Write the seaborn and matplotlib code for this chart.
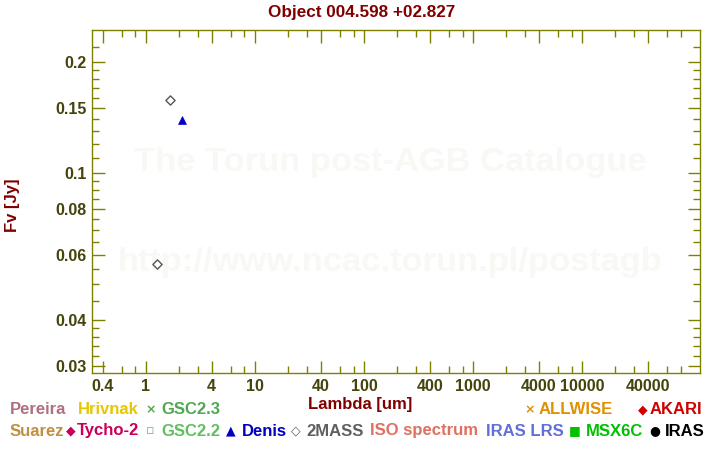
import matplotlib
matplotlib.use("Agg")
import matplotlib.pyplot as plt
import matplotlib.ticker as mticker
import seaborn as sns
import pandas as pd

# ---- data ----
mass_wl = [1.25, 1.65]
mass_flux = [0.0567, 0.158]
denis_wl = [2.15]
denis_flux = [0.139]

x_major = [0.4, 1, 4, 10, 40, 100, 400, 1000, 4000, 10000, 40000]
x_major_labels = ["0.4", "1", "4", "10", "40", "100", "400", "1000", "4000", "10000", "40000"]
y_major = [0.03, 0.04, 0.06, 0.08, 0.1, 0.15, 0.2]
y_major_labels = ["0.03", "0.04", "0.06", "0.08", "0.1", "0.15", "0.2"]
y_minor = [0.032, 0.034, 0.036, 0.038, 0.045, 0.05, 0.055, 0.065, 0.07, 0.075,
           0.085, 0.09, 0.095, 0.11, 0.12, 0.13, 0.14, 0.16, 0.17, 0.18, 0.19, 0.22]
x_minor = [0.6, 0.8, 2, 3, 6, 8, 20, 30, 60, 80, 200, 300, 600, 800, 2000, 3000,
           6000, 8000, 20000, 30000, 60000, 80000]

sns.set_style("white")
plt.rcParams['font.family'] = ['Liberation Sans', 'DejaVu Sans']
plt.rcParams['font.weight'] = 'bold'

fig = plt.figure(figsize=(7.2, 4.5), dpi=100)
ax = fig.add_axes([92/720, 1-373/450, 608/720, 343/450])

df_mass = pd.DataFrame({"wl": mass_wl, "flux": mass_flux})
df_denis = pd.DataFrame({"wl": denis_wl, "flux": denis_flux})
sns.scatterplot(data=df_mass, x="wl", y="flux", marker="D", s=22,
                facecolor="white", edgecolor="#555555", linewidth=1.0, ax=ax, zorder=5)
sns.scatterplot(data=df_denis, x="wl", y="flux", marker="^", s=32,
                color="#0000c8", edgecolor="#0000c8", linewidth=0.5, ax=ax, zorder=5)

ax.set_xscale("log")
ax.set_yscale("log")
ax.set_xlim(0.32, 120000)
ax.set_ylim(0.0287, 0.244)

olive = "#808000"
for s in ax.spines.values():
    s.set_color(olive)
    s.set_linewidth(1.0)

ax.xaxis.set_major_locator(mticker.FixedLocator(x_major))
ax.xaxis.set_major_formatter(mticker.FixedFormatter(x_major_labels))
ax.xaxis.set_minor_locator(mticker.FixedLocator(x_minor))
ax.xaxis.set_minor_formatter(mticker.NullFormatter())
ax.yaxis.set_major_locator(mticker.FixedLocator(y_major))
ax.yaxis.set_major_formatter(mticker.FixedFormatter(y_major_labels))
ax.yaxis.set_minor_locator(mticker.FixedLocator(y_minor))
ax.yaxis.set_minor_formatter(mticker.NullFormatter())

ax.tick_params(which="major", direction="in", length=9, width=1, color=olive,
               left=True, bottom=True, top=True, right=True,
               labelsize=11.5, labelcolor="#44440c", pad=4)
ax.tick_params(which="minor", direction="in", length=5, width=1, color=olive,
               left=True, bottom=True, top=True, right=True)
for lab in ax.get_xticklabels() + ax.get_yticklabels():
    lab.set_fontweight("bold")

ax.set_xlabel("")
ax.set_ylabel("")

dred = "#800000"
fig.text(362/720, 1-12/450, "Object 004.598 +02.827", ha="center", va="center",
         color=dred, fontsize=12.3, fontweight="bold")
fig.text(360/720, 1-404/450, "Lambda [um]", ha="center", va="center",
         color=dred, fontsize=12, fontweight="bold")
fig.text(12/720, 1-205/450, "Fv [Jy]", ha="center", va="center", rotation=90,
         color=dred, fontsize=12, fontweight="bold")

# watermark
ax.text(390/720, 1-163/450, "The Torun post-AGB Catalogue", transform=fig.transFigure,
        ha="center", va="center", color="#f8f8f4", fontsize=24.8, fontweight="bold", zorder=0)
ax.text(390/720, 1-262/450, "http://www.ncac.torun.pl/postagb", transform=fig.transFigure,
        ha="center", va="center", color="#f8f8f4", fontsize=24.8, fontweight="bold", zorder=0)

# legend-like labels: (text x, text, colour, marker, marker x)
leg_fs = 12.0
row1 = [(10, "Pereira", "#b07080", None, 0), (78, "Hrivnak", "#e6c800", None, 0),
        (161, "GSC2.3", "#50a850", "×", 151), (539, "ALLWISE", "#e09000", "×", 530),
        (650, "AKARI", "#d00000", "◆", 643)]
row2 = [(10, "Suarez", "#c09040", None, 0), (77, "Tycho-2", "#c8005a", "◆", 71),
        (161, "GSC2.2", "#60c060", "▫", 150), (242, "Denis", "#0000c0", "▲", 231),
        (306, "2MASS", "#606060", "◇", 296), (370, "ISO spectrum", "#e07060", None, 0),
        (486, "IRAS LRS", "#6070d8", None, 0), (586, "MSX6C", "#00c000", "■", 575),
        (665, "IRAS", "#000000", "●", 655)]
for yy, row in [(410, row1), (431, row2)]:
    for x, t, c, m, mx in row:
        fig.text(x/720, 1-yy/450, t, ha="left", va="center", color=c,
                 fontsize=leg_fs, fontweight="bold")
        if m:
            fig.text(mx/720, 1-yy/450, m, ha="center", va="center", color=c,
                     fontsize=9, fontweight="bold", family=['DejaVu Sans'])

fig.savefig("out.png", dpi=100)
